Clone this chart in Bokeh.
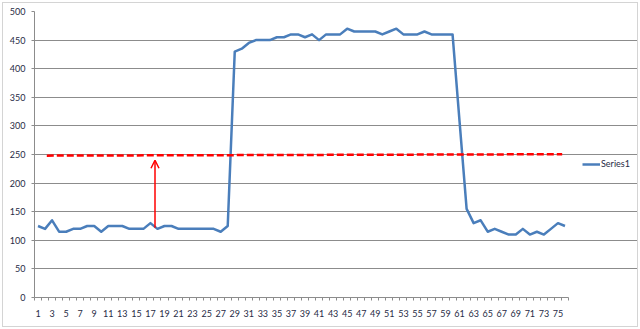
from bokeh.plotting import figure
from bokeh.layouts import column
from bokeh.models import (Range1d, FixedTicker, Legend, LegendItem, Arrow, OpenHead)
from bokeh.embed import file_html
from bokeh.resources import INLINE

categories = list(range(1, 77))
series1 = [125, 120, 135, 115, 115, 120, 120, 125, 125, 115,
           125, 125, 125, 120, 120, 120, 130, 120, 125, 125,
           120, 120, 120, 120, 120, 120, 115, 125, 430, 435,
           445, 450, 450, 450, 455, 455, 460, 460, 455, 460,
           450, 460, 460, 460, 470, 465, 465, 465, 465, 460,
           465, 470, 460, 460, 460, 465, 460, 460, 460, 460,
           307, 155, 130, 135, 115, 120, 115, 110, 110, 120,
           110, 115, 110, 120, 130, 125]
threshold_x = [2.25, 75.6]
threshold_y = [248, 250.5]
arrow_x = 17.65
arrow_y = [122, 240]
x_tick_labels = [str(i) for i in range(1, 77, 2)]
y_ticks = list(range(0, 501, 50))

TEXT = "#1f2b45"
GRID = "#8c8c8c"
FONT = "Lato"

N = len(categories)
PLOT_W = 534          # pixel width of the category area
FRAME_W = 603         # frame also hosts the legend on the right
x_end = 0.5 + N * FRAME_W / PLOT_W

p = figure(output_backend="svg", toolbar_location=None,
           x_range=Range1d(0.5, x_end), y_range=Range1d(0, 500),
           frame_width=FRAME_W, frame_height=286,
           min_border_left=31, min_border_right=0, min_border_top=8,
           min_border_bottom=29)
p.outline_line_color = None
p.border_fill_color = "white"
p.background_fill_color = "white"

line_r = p.line(categories, series1, line_color="#4A7EBB", line_width=2.5,
                line_join="round")
p.line(threshold_x, threshold_y, line_color="#FF0000", line_width=2.5,
       line_dash="7 3")
p.add_layout(Arrow(end=OpenHead(size=8, line_color="#FF0000", line_width=1.5),
                   x_start=arrow_x, y_start=arrow_y[0], x_end=arrow_x, y_end=arrow_y[1],
                   line_color="#FF0000", line_width=1.5))

# x axis
xa = p.xaxis[0]
xa.bounds = (0.5, N + 0.5)
xa.ticker = FixedTicker(ticks=[int(t) for t in x_tick_labels],
                        minor_ticks=[i + 0.5 for i in range(0, N + 1)])
xa.major_tick_out = 0
xa.major_tick_in = 0
xa.minor_tick_out = 3
xa.minor_tick_in = 0
xa.minor_tick_line_color = GRID
xa.axis_line_color = GRID
xa.major_label_standoff = 9
xa.major_label_text_font = FONT
xa.major_label_text_font_size = "9px"
xa.major_label_text_color = TEXT

# y axis
ya = p.yaxis[0]
ya.ticker = FixedTicker(ticks=y_ticks, minor_ticks=[])
ya.major_tick_out = 3
ya.major_tick_in = 0
ya.major_tick_line_color = GRID
ya.axis_line_color = GRID
ya.major_label_standoff = 6
ya.major_label_text_font = FONT
ya.major_label_text_font_size = "9px"
ya.major_label_text_color = TEXT

p.xgrid.grid_line_color = None
p.ygrid.ticker = FixedTicker(ticks=y_ticks)
p.ygrid.bounds = (0.5, N + 0.5)
p.ygrid.grid_line_color = GRID
p.ygrid.grid_line_width = 1

legend = Legend(items=[LegendItem(label="Series1", renderers=[line_r])],
                location=(548, 128), border_line_color=None,
                background_fill_alpha=0,
                label_text_font=FONT, label_text_font_size="9px",
                label_text_color=TEXT, glyph_width=18, glyph_height=10,
                label_standoff=1, padding=0, margin=0, spacing=0)
p.add_layout(legend, "center")

layout = column(p, styles={"border": "1px solid #d4d4d4", "margin": "2px"})

html = file_html(layout, INLINE)
open("out.html", "w").write(html)
